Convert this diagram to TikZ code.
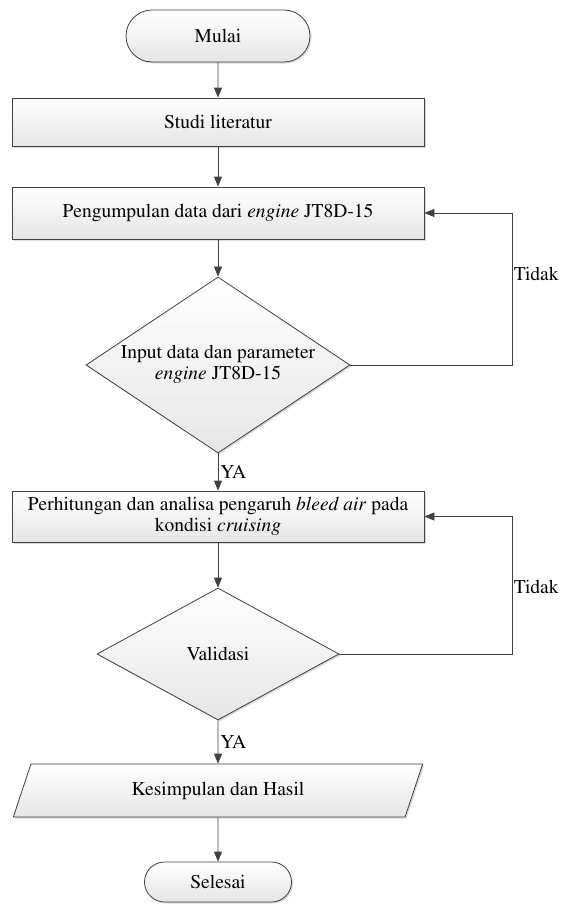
\documentclass[tikz,border=0pt]{standalone}
\usepackage[T1]{fontenc}
\usepackage{mathptmx}
\usetikzlibrary{arrows.meta, shapes.geometric, shapes.misc, shadows}

\tikzset{
  base/.style={draw=black!75, line width=0.8pt, top color=white, bottom color=black!10,
    drop shadow={opacity=0.3, shadow xshift=1.5pt, shadow yshift=-1.5pt}},
  terminal/.style={base, rounded rectangle, inner sep=0pt},
  proses/.style={base, rectangle, minimum width=412pt, inner sep=0pt},
  keputusan/.style={base, diamond, inner sep=0pt},
  data/.style={base, trapezium, trapezium left angle=65, trapezium right angle=115,
    trapezium stretches=true, minimum width=410pt, minimum height=53pt, inner sep=0pt},
  alur/.style={draw=black!75, line width=0.8pt, ->},
}

\begin{document}
\begin{tikzpicture}[x=1pt, y=-1pt, font=\fontsize{19.5}{21}\selectfont, >={Triangle[length=10pt,width=8pt]}]
\useasboundingbox (0,0) rectangle (560,905);
\node[terminal, minimum width=184pt, minimum height=52pt] (mulai) at (218,36) {Mulai};
\node[proses, minimum height=48pt] (studi) at (218,122) {Studi literatur};
\node[proses, minimum height=52pt] (ambil) at (218,213) {Pengumpulan data dari \textit{engine} JT8D-15};
\node[keputusan, minimum width=264pt, minimum height=176pt,
  label={center:\begin{tabular}{@{}c@{}}Input data dan parameter\\\textit{engine} JT8D-15\end{tabular}}] (input) at (218,365) {};
\node[proses, minimum height=51pt] (hitung) at (218,516.5)
  {\begin{tabular}{@{}c@{}}Perhitungan dan analisa pengaruh \textit{bleed air} pada\\kondisi \textit{cruising}\end{tabular}};
\node[keputusan, minimum width=242pt, minimum height=132pt, label=center:Validasi] (valid) at (218,654) {};
\node[data] (simpul) at (218,790.5) {Kesimpulan dan Hasil};
\node[terminal, minimum width=147pt, minimum height=40pt] (selesai) at (218,882) {Selesai};
% alur utama
\draw[alur] (mulai) -- (studi);
\draw[alur] (studi) -- (ambil);
\draw[alur] (ambil) -- (input);
\draw[alur] (input) -- node[right, inner sep=2pt]{YA} (hitung);
\draw[alur] (hitung) -- (valid);
\draw[alur] (valid) -- node[right, inner sep=2pt]{YA} (simpul);
\draw[alur] (simpul) -- (selesai);
% umpan balik
\draw[alur] (input.east) -- ++(162,0) |- node[pos=0.3, right, inner sep=1pt]{Tidak} (ambil.east);
\draw[alur] (valid.east) -- ++(173,0) |- node[pos=0.245, right, inner sep=1pt]{Tidak} (hitung.east);
\end{tikzpicture}
\end{document}
